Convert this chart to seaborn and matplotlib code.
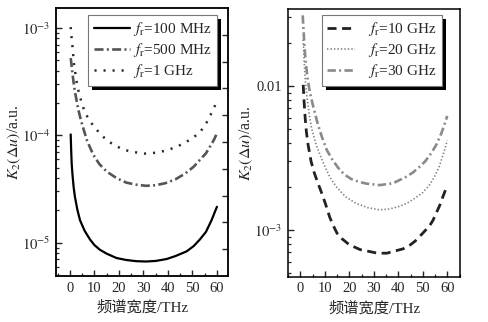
import numpy as np
import pandas as pd
import matplotlib
matplotlib.use("Agg")
import matplotlib.pyplot as plt
import seaborn as sns
from matplotlib.ticker import FixedLocator, FixedFormatter, LogLocator, NullFormatter, MultipleLocator
from matplotlib.patches import Rectangle
from matplotlib.transforms import IdentityTransform

# ---- data: K2(Δu) versus spectral width (THz) ----
# left panel
x_100m = [0.3, 0.5, 0.7, 1.0, 1.5, 2.0, 3.0, 4.1, 6.0, 8.2, 10, 12.2, 15, 19, 23, 27,
          31, 35, 39.5, 43, 47.6, 50.5, 53, 55.5, 57.8, 59, 60]
k_100m = [1.02e-4, 7.2e-5, 5.5e-5, 4.4e-5, 3.3e-5, 2.7e-5, 2.04e-5, 1.62e-5, 1.29e-5,
          1.07e-5, 9.5e-6, 8.6e-6, 7.9e-6, 7.2e-6, 6.9e-6, 6.73e-6, 6.68e-6, 6.76e-6,
          7.05e-6, 7.5e-6, 8.3e-6, 9.3e-6, 1.07e-5, 1.26e-5, 1.62e-5, 1.9e-5, 2.16e-5]

x_500m = [0.3, 0.7, 1.2, 1.8, 2.4, 3.4, 4.5, 5.5, 7.0, 9.5, 12, 15, 19, 23, 27, 31,
          35, 39, 43, 47, 50.5, 53, 55.5, 57.8, 59, 60]
k_500m = [5.25e-4, 4.4e-4, 3.5e-4, 2.75e-4, 2.3e-4, 1.74e-4, 1.38e-4, 1.15e-4, 8.9e-5,
          6.6e-5, 5.4e-5, 4.6e-5, 4.0e-5, 3.63e-5, 3.47e-5, 3.39e-5, 3.43e-5, 3.59e-5,
          3.89e-5, 4.4e-5, 5.1e-5, 5.9e-5, 6.8e-5, 8.3e-5, 9.3e-5, 1.05e-4]

x_1g = [0.3, 0.7, 1.1, 1.6, 2.7, 3.8, 6.1, 9.5, 12.9, 16, 19, 22.5, 25.8, 30.6, 35.4,
        40.1, 44.9, 49, 53, 55.8, 58.5, 60]
k_1g = [1.02e-3, 7.9e-4, 6.5e-4, 4.7e-4, 3.16e-4, 2.4e-4, 1.62e-4, 1.23e-4, 1.0e-4,
        8.7e-5, 7.9e-5, 7.3e-5, 7.0e-5, 6.76e-5, 6.9e-5, 7.3e-5, 8.1e-5, 9.1e-5,
        1.06e-4, 1.32e-4, 1.74e-4, 2.09e-4]

# right panel
x_10g = [1.2, 1.5, 2.0, 2.5, 3.2, 4.4, 5.7, 7.1, 9.1, 10.5, 12, 13.5, 15, 17, 20, 24.5,
         28, 31.5, 35.4, 38, 42, 45, 47, 50, 52.8, 54.2, 56.9, 58.2, 60]
k_10g = [1.02e-2, 8.1e-3, 6.0e-3, 4.8e-3, 3.9e-3, 3.0e-3, 2.5e-3, 2.14e-3, 1.74e-3,
         1.48e-3, 1.23e-3, 1.07e-3, 9.5e-4, 8.7e-4, 7.9e-4, 7.3e-4, 7.1e-4, 6.9e-4,
         6.9e-4, 7.1e-4, 7.4e-4, 7.9e-4, 8.4e-4, 9.5e-4, 1.07e-3, 1.17e-3, 1.48e-3,
         1.70e-3, 2.04e-3]

x_20g = [1.2, 1.6, 2.0, 2.7, 3.7, 4.6, 6.5, 9.3, 12, 14.7, 18.5, 22.8, 27.5, 32.4, 36.5,
         40.5, 44, 47.2, 50, 52.6, 54.8, 56.7, 58.2, 59.5, 60]
k_20g = [2.1e-2, 1.48e-2, 1.12e-2, 8.5e-3, 6.3e-3, 5.1e-3, 3.9e-3, 2.95e-3, 2.34e-3,
         2.0e-3, 1.70e-3, 1.53e-3, 1.43e-3, 1.38e-3, 1.40e-3, 1.46e-3, 1.55e-3, 1.68e-3,
         1.82e-3, 2.04e-3, 2.34e-3, 2.75e-3, 3.3e-3, 3.9e-3, 4.2e-3]

x_30g = [1.0, 1.3, 1.7, 2.2, 3.0, 4.0, 5.3, 7.2, 8.9, 10.8, 13, 15.5, 18, 20.8, 24, 27,
         32.4, 37.8, 43.2, 46, 48.7, 51, 53.5, 55.5, 57.6, 59, 60]
k_30g = [3.1e-2, 2.5e-2, 1.9e-2, 1.48e-2, 1.12e-2, 8.9e-3, 7.2e-3, 5.4e-3, 4.4e-3,
         3.6e-3, 3.1e-3, 2.7e-3, 2.43e-3, 2.26e-3, 2.16e-3, 2.10e-3, 2.05e-3, 2.11e-3,
         2.34e-3, 2.51e-3, 2.75e-3, 3.0e-3, 3.43e-3, 3.9e-3, 4.7e-3, 5.5e-3, 6.2e-3]

x_ticks = [0, 10, 20, 30, 40, 50, 60]
left_yticks = [1e-5, 1e-4, 1e-3]
left_yticklabels = [r"$10^{-5}$", r"$10^{-4}$", r"$10^{-3}$"]
right_yticks = [1e-3, 1e-2]
right_yticklabels = [r"$10^{-3}$", "0.01"]

labels_left = [r"$f_\mathrm{r}$=100 MHz", r"$f_\mathrm{r}$=500 MHz", r"$f_\mathrm{r}$=1 GHz"]
labels_right = [r"$f_\mathrm{r}$=10 GHz", r"$f_\mathrm{r}$=20 GHz", r"$f_\mathrm{r}$=30 GHz"]
xlabel = "频谱宽度/THz"
ylabel = r"$K_2(\Delta u)$/a.u."

# ---- style ----
sns.set_theme(style="ticks")
plt.rcParams["font.family"] = ["Liberation Serif", "Noto Sans CJK SC", "DejaVu Sans"]
plt.rcParams["mathtext.fontset"] = "stix"
plt.rcParams["lines.scale_dashes"] = False
plt.rcParams["axes.linewidth"] = 1.1

fig = plt.figure(figsize=(4.89, 3.22), dpi=100)
fig.patch.set_facecolor("white")
ax1 = fig.add_axes([0.1145, 0.143, 0.3517, 0.832])
ax2 = fig.add_axes([0.589, 0.140, 0.3517, 0.832])

series_left = [
    (x_100m, k_100m, labels_left[0], dict(color="black", lw=1.6, linestyle="-")),
    (x_500m, k_500m, labels_left[1], dict(color="#555555", lw=1.9, linestyle=(0, (6.5, 2.4, 1.4, 2.4)))),
    (x_1g, k_1g, labels_left[2], dict(color="#2a2a2a", lw=1.8, linestyle=(0, (1.5, 5.0)))),
]
series_right = [
    (x_10g, k_10g, labels_right[0], dict(color="#222222", lw=2.0, linestyle=(0, (6.5, 4.0)))),
    (x_20g, k_20g, labels_right[1], dict(color="#808080", lw=1.2, linestyle=(0, (1.0, 1.5)))),
    (x_30g, k_30g, labels_right[2], dict(color="#8a8a8a", lw=1.9, linestyle=(0, (6.0, 2.4, 1.4, 2.4)))),
]

for ax, series in ((ax1, series_left), (ax2, series_right)):
    for xs, ks, lab, kw in series:
        df = pd.DataFrame({"x": xs, "k": ks})
        sns.lineplot(data=df, x="x", y="k", ax=ax, label=lab, **kw)
    ax.set_yscale("log")

ax1.set_xlim(-5.7, 64.5)
ax1.set_ylim(4.9e-6, 1.535e-3)
ax2.set_xlim(-5.0, 65.2)
ax2.set_ylim(4.72e-4, 3.43e-2)

for ax in (ax1, ax2):
    ax.xaxis.set_major_locator(FixedLocator(x_ticks))
    ax.xaxis.set_minor_locator(MultipleLocator(5))
    ax.set_xticklabels([str(t) for t in x_ticks])
    ax.yaxis.set_minor_locator(LogLocator(base=10, subs=np.arange(2, 10)))
    ax.yaxis.set_minor_formatter(NullFormatter())
    ax.tick_params(axis="both", which="major", direction="in", length=4, width=1.0,
                   labelsize=10.5, pad=4, top=False, right=False)
    ax.tick_params(axis="both", which="minor", direction="in", length=2.5, width=0.9,
                   top=False, right=False)
    ax.set_xlabel(xlabel, fontsize=11, labelpad=4)
    ax.set_ylabel(ylabel, fontsize=11.5)
    ax.yaxis.set_label_coords(-0.19, 0.5)
    for s in ax.spines.values():
        s.set_color("black")
        s.set_linewidth(1.1)

ax1.yaxis.set_major_locator(FixedLocator(left_yticks))
ax1.yaxis.set_major_formatter(FixedFormatter(left_yticklabels))
ax2.yaxis.set_major_locator(FixedLocator(right_yticks))
ax2.yaxis.set_major_formatter(FixedFormatter(right_yticklabels))

# evenly spaced ticks along the right edge of the left panel
twin = ax1.twinx()
twin.set_ylim(0, 10)
twin.yaxis.set_major_locator(FixedLocator(np.arange(1, 10)))
twin.tick_params(axis="y", direction="in", length=4, width=1.0, labelright=False)
twin.spines["right"].set_linewidth(1.1)

legend_kw = dict(fontsize=11, frameon=True, fancybox=False, framealpha=1.0,
                 edgecolor="#777777", borderpad=0.35, labelspacing=0.2, borderaxespad=0.0)
leg1 = ax1.legend(loc="upper right", bbox_to_anchor=(0.936, 0.974), handlelength=2.35,
                  handletextpad=0.2, **legend_kw)
leg2 = ax2.legend(loc="upper right", bbox_to_anchor=(0.895, 0.978), handlelength=1.8,
                  handletextpad=0.85, **legend_kw)
for leg in (leg1, leg2):
    leg.get_frame().set_linewidth(0.8)

# solid drop shadows behind the legend boxes
fig.canvas.draw()
for ax, leg in ((twin, leg1), (ax2, leg2)):
    bb = leg.get_window_extent()
    shadow = Rectangle((bb.x0 + 4, bb.y0 - 4), bb.width, bb.height,
                       transform=IdentityTransform(), facecolor="black",
                       edgecolor="none", zorder=4.9, clip_on=False)
    ax.add_artist(shadow)
leg1.set_zorder(6)
ax1.set_zorder(twin.get_zorder() + 1)
ax1.patch.set_visible(False)

fig.savefig("out.png", dpi=100, facecolor="white")
